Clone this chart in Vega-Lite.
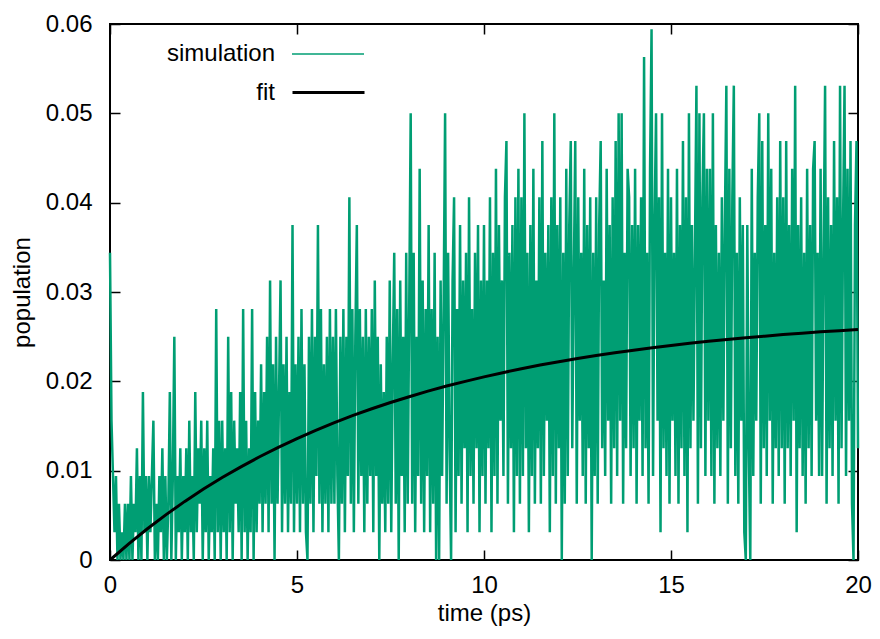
{
"$schema": "https://vega.github.io/schema/vega-lite/v6.json",
"width": 748, "height": 536,
"autosize": {"type": "none"},
"padding": {"left": 110, "top": 24, "right": 22, "bottom": 79},
"background": "white",
"config": {
  "font": "Liberation Sans",
  "view": {"stroke": "black", "strokeWidth": 2},
  "axis": {"grid": false, "domain": false, "tickColor": "black", "tickWidth": 1.5, "tickSize": -10, "labelFont": "Liberation Sans", "labelFontSize": 24, "labelColor": "black", "titleFont": "Liberation Sans", "titleFontSize": 24, "titleFontWeight": "normal", "titleColor": "black", "labelFlush": false, "labelOverlap": false}
},
"layer": [
{
"data": {"values": [
{"t":0,"p":0.0344},{"t":0.04,"p":0.0156},{"t":0.08,"p":0.0094},{"t":0.12,"p":0.0031},{"t":0.16,"p":0.0094},{"t":0.2,"p":0},{"t":0.24,"p":0.0063},{"t":0.28,"p":0},{"t":0.32,"p":0.0031},{"t":0.36,"p":0},{"t":0.4,"p":0.0063},{"t":0.44,"p":0},{"t":0.48,"p":0.0063},{"t":0.52,"p":0},{"t":0.56,"p":0.0094},{"t":0.6,"p":0},{"t":0.64,"p":0.0063},{"t":0.68,"p":0.0031},{"t":0.72,"p":0.0125},{"t":0.76,"p":0},{"t":0.8,"p":0.0094},{"t":0.84,"p":0},{"t":0.88,"p":0.0188},{"t":0.92,"p":0.0031},{"t":0.96,"p":0.0094},
{"t":1,"p":0},{"t":1.04,"p":0.0094},{"t":1.08,"p":0.0031},{"t":1.12,"p":0.0094},{"t":1.16,"p":0.0156},{"t":1.2,"p":0},{"t":1.24,"p":0.0063},{"t":1.28,"p":0},{"t":1.32,"p":0.0094},{"t":1.36,"p":0.0031},{"t":1.4,"p":0.0125},{"t":1.44,"p":0},{"t":1.48,"p":0.0094},{"t":1.52,"p":0},{"t":1.56,"p":0.0063},{"t":1.6,"p":0.0188},{"t":1.64,"p":0},{"t":1.68,"p":0.0094},{"t":1.72,"p":0.025},{"t":1.76,"p":0},{"t":1.8,"p":0.0094},{"t":1.84,"p":0.0031},{"t":1.88,"p":0.0125},{"t":1.92,"p":0},{"t":1.96,"p":0.0094},
{"t":2,"p":0.0031},{"t":2.04,"p":0.0125},{"t":2.08,"p":0},{"t":2.12,"p":0.0156},{"t":2.16,"p":0.0031},{"t":2.2,"p":0.0094},{"t":2.24,"p":0},{"t":2.28,"p":0.0188},{"t":2.32,"p":0.0031},{"t":2.36,"p":0.0125},{"t":2.4,"p":0.0063},{"t":2.44,"p":0.0156},{"t":2.48,"p":0},{"t":2.52,"p":0.0125},{"t":2.56,"p":0.0031},{"t":2.6,"p":0.0156},{"t":2.64,"p":0},{"t":2.68,"p":0.0094},{"t":2.72,"p":0.0031},{"t":2.76,"p":0.0125},{"t":2.8,"p":0},{"t":2.84,"p":0.0281},{"t":2.88,"p":0.0031},{"t":2.92,"p":0.0156},{"t":2.96,"p":0},
{"t":3,"p":0.0156},{"t":3.04,"p":0.0031},{"t":3.08,"p":0.0125},{"t":3.12,"p":0},{"t":3.16,"p":0.025},{"t":3.2,"p":0.0031},{"t":3.24,"p":0.0188},{"t":3.28,"p":0},{"t":3.32,"p":0.0156},{"t":3.36,"p":0.0063},{"t":3.4,"p":0.0125},{"t":3.44,"p":0.0031},{"t":3.48,"p":0.0188},{"t":3.52,"p":0},{"t":3.56,"p":0.0281},{"t":3.6,"p":0.0031},{"t":3.64,"p":0.0156},{"t":3.68,"p":0},{"t":3.72,"p":0.0125},{"t":3.76,"p":0.0031},{"t":3.8,"p":0.0281},{"t":3.84,"p":0},{"t":3.88,"p":0.0188},{"t":3.92,"p":0.0031},{"t":3.96,"p":0.0156},
{"t":4,"p":0.0063},{"t":4.04,"p":0.0219},{"t":4.08,"p":0.0031},{"t":4.12,"p":0.0188},{"t":4.16,"p":0.0063},{"t":4.2,"p":0.025},{"t":4.24,"p":0.0031},{"t":4.28,"p":0.0313},{"t":4.32,"p":0.0063},{"t":4.36,"p":0.0219},{"t":4.4,"p":0},{"t":4.44,"p":0.025},{"t":4.48,"p":0.0063},{"t":4.52,"p":0.0188},{"t":4.56,"p":0.0313},{"t":4.6,"p":0.0031},{"t":4.64,"p":0.0219},{"t":4.68,"p":0.0063},{"t":4.72,"p":0.025},{"t":4.76,"p":0.0031},{"t":4.8,"p":0.0188},{"t":4.84,"p":0.0063},{"t":4.88,"p":0.0375},{"t":4.92,"p":0.0031},{"t":4.96,"p":0.0219},
{"t":5,"p":0.0063},{"t":5.04,"p":0.025},{"t":5.08,"p":0.0031},{"t":5.12,"p":0.0281},{"t":5.16,"p":0.0063},{"t":5.2,"p":0.0219},{"t":5.24,"p":0.0031},{"t":5.28,"p":0},{"t":5.32,"p":0.025},{"t":5.36,"p":0.0063},{"t":5.4,"p":0.0281},{"t":5.44,"p":0.0031},{"t":5.48,"p":0.025},{"t":5.52,"p":0.0094},{"t":5.56,"p":0.0375},{"t":5.6,"p":0.0063},{"t":5.64,"p":0.0281},{"t":5.68,"p":0.0031},{"t":5.72,"p":0.0219},{"t":5.76,"p":0.0063},{"t":5.8,"p":0.025},{"t":5.84,"p":0.0031},{"t":5.88,"p":0.0281},{"t":5.92,"p":0.0063},{"t":5.96,"p":0.025},
{"t":6,"p":0.0063},{"t":6.04,"p":0.0281},{"t":6.08,"p":0.0094},{"t":6.12,"p":0},{"t":6.16,"p":0.025},{"t":6.2,"p":0.0063},{"t":6.24,"p":0.0281},{"t":6.28,"p":0.0031},{"t":6.32,"p":0.025},{"t":6.36,"p":0.0094},{"t":6.4,"p":0.0406},{"t":6.44,"p":0.0063},{"t":6.48,"p":0.0281},{"t":6.52,"p":0.0031},{"t":6.56,"p":0.025},{"t":6.6,"p":0.0375},{"t":6.64,"p":0.0063},{"t":6.68,"p":0.0281},{"t":6.72,"p":0.0094},{"t":6.76,"p":0.025},{"t":6.8,"p":0.0031},{"t":6.84,"p":0.0281},{"t":6.88,"p":0.0063},{"t":6.92,"p":0.025},{"t":6.96,"p":0.0094},
{"t":7,"p":0.0281},{"t":7.04,"p":0.0031},{"t":7.08,"p":0.0313},{"t":7.12,"p":0.0094},{"t":7.16,"p":0.025},{"t":7.2,"p":0},{"t":7.24,"p":0.0219},{"t":7.28,"p":0.0063},{"t":7.32,"p":0.0188},{"t":7.36,"p":0.0031},{"t":7.4,"p":0.025},{"t":7.44,"p":0.0063},{"t":7.48,"p":0.0313},{"t":7.52,"p":0.0031},{"t":7.56,"p":0.0219},{"t":7.6,"p":0.0344},{"t":7.64,"p":0.0063},{"t":7.68,"p":0.0281},{"t":7.72,"p":0},{"t":7.76,"p":0.0313},{"t":7.8,"p":0.0094},{"t":7.84,"p":0.025},{"t":7.88,"p":0.0031},{"t":7.92,"p":0.0344},{"t":7.96,"p":0.0063},
{"t":8,"p":0.0281},{"t":8.04,"p":0.05},{"t":8.08,"p":0.0063},{"t":8.12,"p":0.0344},{"t":8.16,"p":0.0031},{"t":8.2,"p":0.025},{"t":8.24,"p":0.0094},{"t":8.28,"p":0.0438},{"t":8.32,"p":0.0063},{"t":8.36,"p":0.0313},{"t":8.4,"p":0.0031},{"t":8.44,"p":0.0281},{"t":8.48,"p":0.0094},{"t":8.52,"p":0.0375},{"t":8.56,"p":0.0031},{"t":8.6,"p":0.0281},{"t":8.64,"p":0.0063},{"t":8.68,"p":0.0344},{"t":8.72,"p":0},{"t":8.76,"p":0.025},{"t":8.8,"p":0},{"t":8.84,"p":0.0313},{"t":8.88,"p":0.0094},{"t":8.92,"p":0.0281},{"t":8.96,"p":0.05},
{"t":9,"p":0.0063},{"t":9.04,"p":0.0344},{"t":9.08,"p":0.0125},{"t":9.12,"p":0},{"t":9.16,"p":0.0313},{"t":9.2,"p":0.0406},{"t":9.24,"p":0.0031},{"t":9.28,"p":0.0281},{"t":9.32,"p":0.0094},{"t":9.36,"p":0.0375},{"t":9.4,"p":0.0063},{"t":9.44,"p":0.0313},{"t":9.48,"p":0.0125},{"t":9.52,"p":0.0344},{"t":9.56,"p":0.0031},{"t":9.6,"p":0.0406},{"t":9.64,"p":0.0094},{"t":9.68,"p":0.0281},{"t":9.72,"p":0.0063},{"t":9.76,"p":0.0344},{"t":9.8,"p":0.0125},{"t":9.84,"p":0.0375},{"t":9.88,"p":0.0031},{"t":9.92,"p":0.0313},{"t":9.96,"p":0.0094},
{"t":10,"p":0.0375},{"t":10.04,"p":0.0063},{"t":10.08,"p":0.0313},{"t":10.12,"p":0.0125},{"t":10.16,"p":0.0406},{"t":10.2,"p":0.0031},{"t":10.24,"p":0.0344},{"t":10.28,"p":0.0094},{"t":10.32,"p":0.0438},{"t":10.36,"p":0.0063},{"t":10.4,"p":0.0375},{"t":10.44,"p":0.0156},{"t":10.48,"p":0.0313},{"t":10.52,"p":0.0094},{"t":10.56,"p":0.0406},{"t":10.6,"p":0.0469},{"t":10.64,"p":0.0063},{"t":10.68,"p":0.0344},{"t":10.72,"p":0.0125},{"t":10.76,"p":0.0375},{"t":10.8,"p":0.0031},{"t":10.84,"p":0.0406},{"t":10.88,"p":0.0094},{"t":10.92,"p":0.0438},{"t":10.96,"p":0.0063},
{"t":11,"p":0.0406},{"t":11.04,"p":0.0094},{"t":11.08,"p":0.05},{"t":11.12,"p":0.0125},{"t":11.16,"p":0.0344},{"t":11.2,"p":0.0031},{"t":11.24,"p":0.0375},{"t":11.28,"p":0.0094},{"t":11.32,"p":0.0438},{"t":11.36,"p":0.0063},{"t":11.4,"p":0.0313},{"t":11.44,"p":0.0125},{"t":11.48,"p":0.0406},{"t":11.52,"p":0.0063},{"t":11.56,"p":0.0469},{"t":11.6,"p":0.0094},{"t":11.64,"p":0.0344},{"t":11.68,"p":0.0156},{"t":11.72,"p":0.0375},{"t":11.76,"p":0.0031},{"t":11.8,"p":0.0406},{"t":11.84,"p":0.0094},{"t":11.88,"p":0.05},{"t":11.92,"p":0.0063},{"t":11.96,"p":0.0375},
{"t":12,"p":0.0125},{"t":12.04,"p":0.0406},{"t":12.08,"p":0},{"t":12.12,"p":0.0344},{"t":12.16,"p":0.0063},{"t":12.2,"p":0.0438},{"t":12.24,"p":0.0094},{"t":12.28,"p":0.0375},{"t":12.32,"p":0.0469},{"t":12.36,"p":0.0125},{"t":12.4,"p":0.0313},{"t":12.44,"p":0.0469},{"t":12.48,"p":0.0063},{"t":12.52,"p":0.0406},{"t":12.56,"p":0.0156},{"t":12.6,"p":0.0344},{"t":12.64,"p":0.0094},{"t":12.68,"p":0.0438},{"t":12.72,"p":0.0063},{"t":12.76,"p":0.0375},{"t":12.8,"p":0.0125},{"t":12.84,"p":0.0406},{"t":12.88,"p":0},{"t":12.92,"p":0.0344},{"t":12.96,"p":0.0094},
{"t":13,"p":0.0406},{"t":13.04,"p":0.0063},{"t":13.08,"p":0.0375},{"t":13.12,"p":0.0469},{"t":13.16,"p":0.0125},{"t":13.2,"p":0.0313},{"t":13.24,"p":0.0094},{"t":13.28,"p":0.0438},{"t":13.32,"p":0.0156},{"t":13.36,"p":0.0375},{"t":13.4,"p":0.0063},{"t":13.44,"p":0.0406},{"t":13.48,"p":0.0125},{"t":13.52,"p":0.0469},{"t":13.56,"p":0.0094},{"t":13.6,"p":0.05},{"t":13.64,"p":0.0156},{"t":13.68,"p":0.05},{"t":13.72,"p":0.0063},{"t":13.76,"p":0.0344},{"t":13.8,"p":0.0125},{"t":13.84,"p":0.0438},{"t":13.88,"p":0.0406},{"t":13.92,"p":0.0094},{"t":13.96,"p":0.0375},
{"t":14,"p":0.0125},{"t":14.04,"p":0.0438},{"t":14.08,"p":0.0063},{"t":14.12,"p":0.0375},{"t":14.16,"p":0.0156},{"t":14.2,"p":0.0406},{"t":14.24,"p":0.0094},{"t":14.28,"p":0.0563},{"t":14.32,"p":0.0125},{"t":14.36,"p":0.0344},{"t":14.4,"p":0.0063},{"t":14.44,"p":0.0438},{"t":14.48,"p":0.0594},{"t":14.52,"p":0.0094},{"t":14.56,"p":0.0375},{"t":14.6,"p":0.05},{"t":14.64,"p":0.0156},{"t":14.68,"p":0.0406},{"t":14.72,"p":0.0031},{"t":14.76,"p":0.05},{"t":14.8,"p":0.0125},{"t":14.84,"p":0.0344},{"t":14.88,"p":0.0094},{"t":14.92,"p":0.0438},{"t":14.96,"p":0.0063},
{"t":15,"p":0.0406},{"t":15.04,"p":0.0156},{"t":15.08,"p":0.0344},{"t":15.12,"p":0.0094},{"t":15.16,"p":0.0438},{"t":15.2,"p":0.0063},{"t":15.24,"p":0.0375},{"t":15.28,"p":0.0125},{"t":15.32,"p":0.0469},{"t":15.36,"p":0.0094},{"t":15.4,"p":0.0406},{"t":15.44,"p":0.0031},{"t":15.48,"p":0.05},{"t":15.52,"p":0.0125},{"t":15.56,"p":0.0375},{"t":15.6,"p":0.0156},{"t":15.64,"p":0.0344},{"t":15.68,"p":0.0531},{"t":15.72,"p":0.0063},{"t":15.76,"p":0.05},{"t":15.8,"p":0.0125},{"t":15.84,"p":0.0406},{"t":15.88,"p":0.05},{"t":15.92,"p":0.0094},{"t":15.96,"p":0.0438},
{"t":16,"p":0.0156},{"t":16.04,"p":0.0438},{"t":16.08,"p":0.0094},{"t":16.12,"p":0.05},{"t":16.16,"p":0.0063},{"t":16.2,"p":0.0375},{"t":16.24,"p":0.0125},{"t":16.28,"p":0.0344},{"t":16.32,"p":0.0094},{"t":16.36,"p":0.0406},{"t":16.4,"p":0.0156},{"t":16.44,"p":0.0375},{"t":16.48,"p":0.0531},{"t":16.52,"p":0.0063},{"t":16.56,"p":0.0438},{"t":16.6,"p":0.0125},{"t":16.64,"p":0.0406},{"t":16.68,"p":0.0531},{"t":16.72,"p":0.0094},{"t":16.76,"p":0.0344},{"t":16.8,"p":0.0063},{"t":16.84,"p":0.0406},{"t":16.88,"p":0.0156},{"t":16.92,"p":0.0375},{"t":16.96,"p":0.0031},
{"t":17,"p":0},{"t":17.04,"p":0.0375},{"t":17.08,"p":0.0125},{"t":17.12,"p":0},{"t":17.16,"p":0.0438},{"t":17.2,"p":0.0094},{"t":17.24,"p":0.0344},{"t":17.28,"p":0.0156},{"t":17.32,"p":0.0406},{"t":17.36,"p":0.05},{"t":17.4,"p":0.0063},{"t":17.44,"p":0.0469},{"t":17.48,"p":0.0125},{"t":17.52,"p":0.0375},{"t":17.56,"p":0.0094},{"t":17.6,"p":0.05},{"t":17.64,"p":0.0156},{"t":17.68,"p":0.0438},{"t":17.72,"p":0.0063},{"t":17.76,"p":0.0344},{"t":17.8,"p":0.0125},{"t":17.84,"p":0.0406},{"t":17.88,"p":0.0094},{"t":17.92,"p":0.0469},{"t":17.96,"p":0.0125},
{"t":18,"p":0.0406},{"t":18.04,"p":0.0063},{"t":18.08,"p":0.0469},{"t":18.12,"p":0.0125},{"t":18.16,"p":0.0375},{"t":18.2,"p":0.0094},{"t":18.24,"p":0.0438},{"t":18.28,"p":0.0156},{"t":18.32,"p":0.0531},{"t":18.36,"p":0.0031},{"t":18.4,"p":0.0375},{"t":18.44,"p":0.0125},{"t":18.48,"p":0.0406},{"t":18.52,"p":0.0094},{"t":18.56,"p":0.0344},{"t":18.6,"p":0.0063},{"t":18.64,"p":0.0438},{"t":18.68,"p":0.0125},{"t":18.72,"p":0.0375},{"t":18.76,"p":0.0094},{"t":18.8,"p":0.0438},{"t":18.84,"p":0.0469},{"t":18.88,"p":0.0156},{"t":18.92,"p":0.0344},{"t":18.96,"p":0.0094},
{"t":19,"p":0.0438},{"t":19.04,"p":0.0094},{"t":19.08,"p":0.0344},{"t":19.12,"p":0.0531},{"t":19.16,"p":0.0063},{"t":19.2,"p":0.0406},{"t":19.24,"p":0.0125},{"t":19.28,"p":0.0375},{"t":19.32,"p":0.0094},{"t":19.36,"p":0.0469},{"t":19.4,"p":0.0156},{"t":19.44,"p":0.0406},{"t":19.48,"p":0.0063},{"t":19.52,"p":0.0531},{"t":19.56,"p":0.0125},{"t":19.6,"p":0.0375},{"t":19.64,"p":0.0531},{"t":19.68,"p":0.0094},{"t":19.72,"p":0.0438},{"t":19.76,"p":0.0156},{"t":19.8,"p":0.0469},{"t":19.84,"p":0.0063},{"t":19.88,"p":0},{"t":19.92,"p":0.0375},{"t":19.96,"p":0.0469},{"t":20,"p":0.0125}
]},
"mark": {"type": "line", "strokeWidth": 2.5},
"encoding": {
  "x": {"field": "t", "type": "quantitative", "scale": {"domain": [0, 20], "nice": false}, "axis": {"orient": "bottom", "values": [0, 5, 10, 15, 20], "title": "time (ps)", "labelPadding": 23, "titlePadding": 4}},
  "y": {"field": "p", "type": "quantitative", "scale": {"domain": [0, 0.06], "nice": false, "zero": true}, "axis": {"orient": "left", "values": [0, 0.01, 0.02, 0.03, 0.04, 0.05, 0.06], "format": "~g", "title": "population", "labelPadding": 28, "titlePadding": 11}},
  "color": {"datum": "simulation", "type": "nominal", "scale": {"domain": ["simulation"], "range": ["#009e73"]},
    "legend": {"orient": "none", "legendX": 181, "legendY": -7, "title": null, "symbolType": "stroke", "symbolSize": 5184, "symbolStrokeWidth": 1.5, "labelAlign": "right", "labelOffset": -90, "labelFontSize": 24, "labelColor": "black", "padding": 0, "labelLimit": 0}}
}
},
{
"data": {"values": [
{"t":0,"p":0},{"t":0.5,"p":0.00181},{"t":1,"p":0.0035},{"t":1.5,"p":0.00508},{"t":2,"p":0.00656},{"t":2.5,"p":0.00794},{"t":3,"p":0.00923},{"t":3.5,"p":0.01043},{"t":4,"p":0.01156},{"t":4.5,"p":0.01261},{"t":5,"p":0.01359},{"t":5.5,"p":0.01451},{"t":6,"p":0.01537},{"t":6.5,"p":0.01618},{"t":7,"p":0.01693},{"t":7.5,"p":0.01763},{"t":8,"p":0.01828},{"t":8.5,"p":0.0189},{"t":9,"p":0.01947},{"t":9.5,"p":0.02},{"t":10,"p":0.0205},{"t":10.5,"p":0.02097},{"t":11,"p":0.02141},{"t":11.5,"p":0.02182},{"t":12,"p":0.0222},{"t":12.5,"p":0.02256},{"t":13,"p":0.02289},{"t":13.5,"p":0.0232},{"t":14,"p":0.02349},{"t":14.5,"p":0.02376},{"t":15,"p":0.02402},{"t":15.5,"p":0.02426},{"t":16,"p":0.02448},{"t":16.5,"p":0.02469},{"t":17,"p":0.02488},{"t":17.5,"p":0.02506},{"t":18,"p":0.02523},{"t":18.5,"p":0.02539},{"t":19,"p":0.02554},{"t":19.5,"p":0.02567},{"t":20,"p":0.0258}
]},
"mark": {"type": "line", "strokeWidth": 3},
"encoding": {
  "x": {"field": "t", "type": "quantitative", "axis": {"orient": "top", "values": [0, 5, 10, 15, 20], "labels": false, "title": null}},
  "y": {"field": "p", "type": "quantitative", "axis": {"orient": "right", "values": [0, 0.01, 0.02, 0.03, 0.04, 0.05, 0.06], "labels": false, "title": null}},
  "color": {"datum": "fit", "type": "nominal", "scale": {"domain": ["fit"], "range": ["#000000"]},
    "legend": {"orient": "none", "legendX": 181, "legendY": 31, "title": null, "symbolType": "stroke", "symbolSize": 5184, "symbolStrokeWidth": 3, "labelAlign": "right", "labelOffset": -91, "labelFontSize": 24, "labelColor": "black", "padding": 0, "labelLimit": 0}}
}
}
],
"resolve": {"scale": {"color": "independent"}, "axis": {"x": "independent", "y": "independent"}}
}
